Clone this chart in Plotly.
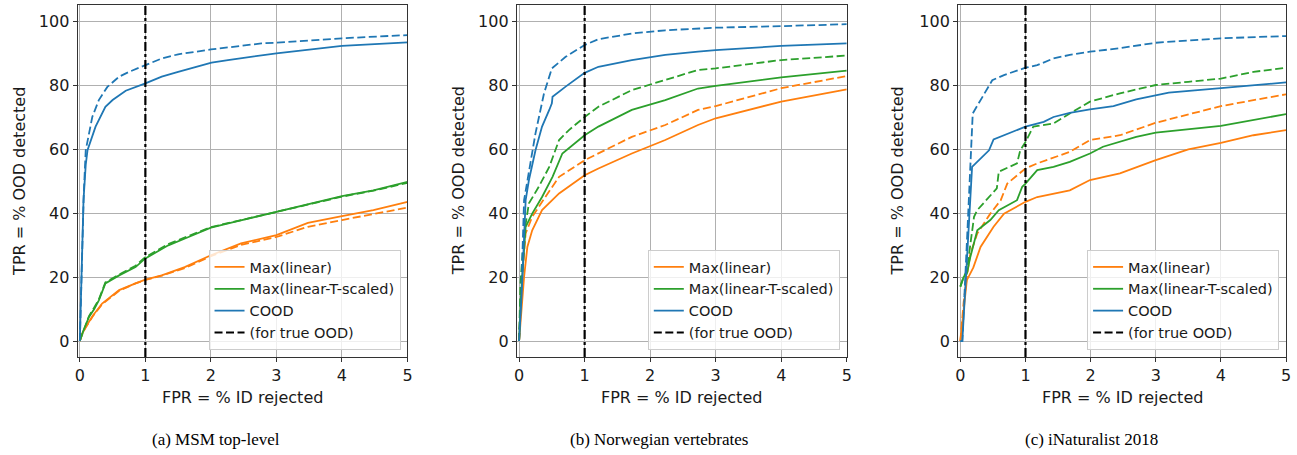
import plotly.graph_objects as go

# ---------------- data ----------------
CAPTIONS = ["(a) MSM top-level", "(b) Norwegian vertebrates", "(c) iNaturalist 2018"]
SERIES_NAMES = ["Max(linear)", "Max(linear-T-scaled)", "COOD"]
TRUE_OOD_NAME = "(for true OOD)"
X_TICKS = [0, 1, 2, 3, 4, 5]
Y_TICKS = [0, 20, 40, 60, 80, 100]
THRESHOLD_FPR = 1

# Panel (a) MSM top-level
MSM_LIN_X = [0, 0.03, 0.09, 0.2, 0.34, 0.6, 0.85, 1.0, 1.25, 1.6, 2.0, 2.46, 3.0, 3.48, 4.0, 4.48, 5.0]
MSM_LIN_Y = [0, 2, 4.4, 8, 11.7, 15.9, 18, 19.2, 20.5, 23.1, 26.8, 30.5, 33.1, 36.9, 39, 40.9, 43.5]
MSM_LIN_TRUE_X = [0, 0.03, 0.09, 0.2, 0.34, 0.6, 0.85, 1.0, 1.25, 1.6, 2.0, 2.46, 3.0, 3.48, 4.0, 4.48, 5.0]
MSM_LIN_TRUE_Y = [0, 2, 4.2, 7.8, 11.5, 15.7, 18, 19.1, 20.4, 22.8, 26.5, 30, 32.5, 35.7, 37.8, 39.6, 41.7]
MSM_TS_X = [0, 0.05, 0.14, 0.22, 0.29, 0.39, 0.6, 0.85, 1.0, 1.35, 1.66, 2.0, 2.36, 3.0, 3.48, 4.0, 4.48, 5.0]
MSM_TS_Y = [0, 3, 7.5, 10, 12.7, 18, 20.5, 23.1, 25.8, 29.9, 32.5, 35.4, 37.2, 40.4, 42.8, 45.3, 47.1, 49.7]
MSM_TS_TRUE_X = [0, 0.05, 0.14, 0.22, 0.29, 0.39, 0.6, 0.85, 1.0, 1.35, 1.66, 2.0, 2.36, 3.0, 3.48, 4.0, 4.48, 5.0]
MSM_TS_TRUE_Y = [0, 3, 7.8, 10.5, 13, 18.3, 20.8, 23.5, 26.2, 30.3, 32.9, 35.6, 37.3, 40.4, 42.6, 45.1, 47.0, 49.4]
MSM_COOD_X = [0, 0.03, 0.056, 0.09, 0.117, 0.24, 0.39, 0.5, 0.7, 1.0, 1.25, 1.5, 1.76, 2.01, 2.26, 2.77, 3.0, 4.0, 5.0]
MSM_COOD_Y = [0, 25, 44, 55, 59.6, 67, 73.2, 75.3, 78.2, 80.5, 82.6, 84.1, 85.7, 87, 87.8, 89.4, 89.9, 92.2, 93.3]
MSM_COOD_TRUE_X = [0, 0.03, 0.06, 0.09, 0.19, 0.29, 0.42, 0.6, 0.75, 1.0, 1.25, 1.5, 2.0, 2.77, 3.0, 4.0, 5.0]
MSM_COOD_TRUE_Y = [0, 25, 46, 59.6, 70, 75.3, 79.4, 82.6, 84.1, 86.2, 88.3, 89.6, 91.1, 93, 93.2, 94.6, 95.6]

# Panel (b) Norwegian vertebrates
NOR_LIN_X = [0, 0.04, 0.076, 0.126, 0.2, 0.35, 0.61, 1.0, 1.21, 1.72, 2.23, 2.73, 3.0, 4.0, 5.0]
NOR_LIN_Y = [0, 12, 20, 29.4, 34.6, 40.9, 46.1, 51.8, 53.9, 58.6, 62.8, 67.5, 69.6, 74.8, 78.6]
NOR_LIN_TRUE_X = [0, 0.03, 0.1, 0.2, 0.4, 0.61, 1.0, 1.21, 1.72, 2.23, 2.73, 3.0, 4.0, 5.0]
NOR_LIN_TRUE_Y = [0, 15, 33.6, 38.8, 45, 51.3, 56.5, 58.6, 63.8, 67.5, 72.2, 73.4, 79, 82.8]
NOR_TS_X = [0, 0.03, 0.1, 0.2, 0.35, 0.51, 0.66, 1.0, 1.21, 1.72, 2.23, 2.73, 3.0, 4.0, 5.0]
NOR_TS_Y = [0, 15, 35.7, 39.8, 45, 51.3, 58.6, 64.3, 67, 72.2, 75.3, 78.9, 79.7, 82.4, 84.5]
NOR_TS_TRUE_X = [0, 0.02, 0.076, 0.15, 0.3, 0.46, 0.61, 0.76, 1.0, 1.21, 1.72, 2.23, 2.73, 3.0, 4.0, 5.0]
NOR_TS_TRUE_Y = [0, 18, 33.6, 43, 48.2, 54.4, 62.8, 65.9, 70, 73.2, 78.4, 81.5, 84.7, 85.2, 87.8, 89.2]
NOR_COOD_X = [0, 0.04, 0.1, 0.15, 0.25, 0.35, 0.46, 0.5, 0.51, 0.71, 1.0, 1.21, 1.72, 2.23, 2.73, 3.0, 4.0, 5.0]
NOR_COOD_Y = [0, 15, 44, 50.3, 59.6, 67, 72.2, 74.3, 76.3, 79.5, 83.8, 85.7, 87.8, 89.4, 90.4, 90.9, 92.2, 93]
NOR_COOD_TRUE_X = [0, 0.04, 0.076, 0.126, 0.25, 0.38, 0.5, 0.71, 1.0, 1.21, 1.72, 2.23, 2.73, 3.0, 4.0, 5.0]
NOR_COOD_TRUE_Y = [0, 20, 44, 50.3, 64.9, 77.4, 85.2, 88.8, 92.5, 94.3, 96.1, 97.1, 97.7, 97.9, 98.4, 99]

# Panel (c) iNaturalist 2018
INAT_LIN_X = [0, 0.05, 0.1, 0.2, 0.31, 0.51, 0.67, 1.0, 1.18, 1.68, 1.99, 2.45, 3.0, 3.5, 4.0, 4.5, 5.0]
INAT_LIN_Y = [0, 10, 19, 23, 29.4, 35.7, 39.8, 43.5, 45, 47.1, 50.3, 52.4, 56.5, 59.9, 61.9, 64.3, 65.9]
INAT_LIN_TRUE_X = [0, 0.05, 0.1, 0.15, 0.26, 0.46, 0.62, 0.72, 1.0, 1.18, 1.68, 1.99, 2.45, 3.0, 4.0, 4.5, 5.0]
INAT_LIN_TRUE_Y = [0, 12, 20, 27, 33.6, 39.8, 44, 49.2, 53.9, 55.5, 59.1, 62.8, 64.3, 68.2, 73.4, 75.3, 77.1]
INAT_TS_X = [0, 0.05, 0.1, 0.15, 0.26, 0.46, 0.59, 0.87, 0.95, 1.0, 1.18, 1.43, 1.68, 1.99, 2.19, 2.7, 3.0, 4.0, 5.0]
INAT_TS_Y = [17, 20, 21, 26, 34.6, 37.8, 40.9, 44, 48.2, 49.2, 53.4, 54.4, 56, 58.6, 60.7, 63.8, 65.1, 67.2, 70.9]
INAT_TS_TRUE_X = [0, 0.05, 0.1, 0.15, 0.21, 0.26, 0.56, 0.59, 0.87, 0.92, 1.0, 1.12, 1.43, 1.68, 1.99, 2.45, 3.0, 3.5, 4.0, 4.5, 5.0]
INAT_TS_TRUE_Y = [17, 20, 22, 30, 38.8, 40.9, 47.7, 52.9, 55.5, 59.6, 62.2, 67, 68, 71.1, 74.8, 77.4, 80, 81, 82, 84.1, 85.4]
INAT_COOD_X = [0, 0.03, 0.1, 0.18, 0.44, 0.51, 1.0, 1.28, 1.43, 1.68, 1.99, 2.35, 2.7, 3.0, 3.2, 4.0, 5.0]
INAT_COOD_Y = [0, 0, 25, 54.4, 59.6, 63, 67, 68.5, 70, 71.3, 72.4, 73.4, 75.5, 76.9, 77.6, 79, 80.8]
INAT_COOD_TRUE_X = [0, 0.03, 0.107, 0.18, 0.19, 0.34, 0.49, 0.67, 1.0, 1.18, 1.43, 1.68, 1.99, 2.45, 3.0, 4.0, 5.0]
INAT_COOD_TRUE_Y = [0, 0, 33.7, 68, 71.1, 76.3, 81.5, 83.1, 85.4, 86.2, 88.3, 89.4, 90.4, 91.5, 93.2, 94.6, 95.3]

# ---------------- styling ----------------
W, H = 1297, 455
COLORS = ["#ff7f0e", "#2ca02c", "#1f77b4"]
DASH = "8px,3.5px"
LW = 1.8
FONT = "DejaVu Sans"
TXT = "#1a1a1a"

# plot areas in pixels (left, right); top / bottom shared
AREAS = [(75, 407), (517, 849), (961, 1291)]
TOP, BOTTOM = 5, 357
YTITLE_X = [17, 459, 901]
CAPTION_X = [214, 660, 1095]
LEGEND_RIGHT = [400, 842, 1284]
LEGEND_BOTTOM = 350

PANELS = [
    [(MSM_LIN_X, MSM_LIN_Y, MSM_LIN_TRUE_X, MSM_LIN_TRUE_Y),
     (MSM_TS_X, MSM_TS_Y, MSM_TS_TRUE_X, MSM_TS_TRUE_Y),
     (MSM_COOD_X, MSM_COOD_Y, MSM_COOD_TRUE_X, MSM_COOD_TRUE_Y)],
    [(NOR_LIN_X, NOR_LIN_Y, NOR_LIN_TRUE_X, NOR_LIN_TRUE_Y),
     (NOR_TS_X, NOR_TS_Y, NOR_TS_TRUE_X, NOR_TS_TRUE_Y),
     (NOR_COOD_X, NOR_COOD_Y, NOR_COOD_TRUE_X, NOR_COOD_TRUE_Y)],
    [(INAT_LIN_X, INAT_LIN_Y, INAT_LIN_TRUE_X, INAT_LIN_TRUE_Y),
     (INAT_TS_X, INAT_TS_Y, INAT_TS_TRUE_X, INAT_TS_TRUE_Y),
     (INAT_COOD_X, INAT_COOD_Y, INAT_COOD_TRUE_X, INAT_COOD_TRUE_Y)],
]

fig = go.Figure()

for p, panel in enumerate(PANELS):
    sfx = "" if p == 0 else str(p + 1)
    xa, ya = "x" + sfx, "y" + sfx
    leg = "legend" + sfx
    # dashed (true OOD) curves
    for s, (xs, ys, xt, yt) in enumerate(panel):
        fig.add_trace(go.Scatter(x=xt, y=yt, mode="lines", xaxis=xa, yaxis=ya,
                                 line=dict(color=COLORS[s], width=LW, dash=DASH),
                                 showlegend=False, hoverinfo="skip"))
    # solid curves
    for s, (xs, ys, xt, yt) in enumerate(panel):
        fig.add_trace(go.Scatter(x=xs, y=ys, mode="lines", xaxis=xa, yaxis=ya,
                                 name=SERIES_NAMES[s], legend=leg,
                                 line=dict(color=COLORS[s], width=LW)))
    # legend-only entry for the dashed style
    fig.add_trace(go.Scatter(x=[None], y=[None], mode="lines", xaxis=xa, yaxis=ya,
                             name=TRUE_OOD_NAME, legend=leg,
                             line=dict(color="black", width=LW, dash=DASH)))
    # threshold line at FPR = 1 %
    fig.add_shape(type="line", xref=xa, yref=ya + " domain", x0=THRESHOLD_FPR, x1=THRESHOLD_FPR,
                  y0=0, y1=1, line=dict(color="black", width=2.2, dash="dashdot"), layer="above")

    l, r = AREAS[p]
    axis_common = dict(showline=True, linecolor="#333333", linewidth=1, mirror=True,
                       ticks="outside", ticklen=4, tickwidth=1, tickcolor="#333333",
                       showgrid=True, gridcolor="#b0b0b0", gridwidth=1, zeroline=False,
                       tickfont=dict(family=FONT, size=16, color=TXT))
    fig.layout["xaxis" + sfx] = dict(domain=[l / W, r / W], range=[-0.035, 5], anchor=ya,
                                     tickvals=X_TICKS, **axis_common)
    fig.layout["yaxis" + sfx] = dict(domain=[1 - BOTTOM / H, 1 - TOP / H], range=[-5, 105], anchor=xa,
                                     tickvals=Y_TICKS, **axis_common)
    fig.layout[leg] = dict(x=LEGEND_RIGHT[p] / W, y=1 - LEGEND_BOTTOM / H, xanchor="right", yanchor="bottom",
                           bgcolor="rgba(255,255,255,0.8)", bordercolor="#cccccc", borderwidth=1,
                           font=dict(family=FONT, size=14.5, color=TXT), tracegroupgap=0,
                           itemwidth=30)

    fig.add_annotation(text="FPR = % ID rejected", xref="paper", yref="paper",
                       x=(l + r) / 2 / W, y=1 - 397 / H, xanchor="center", yanchor="middle",
                       showarrow=False, font=dict(family=FONT, size=16, color=TXT))
    fig.add_annotation(text="TPR = % OOD detected", xref="paper", yref="paper",
                       x=YTITLE_X[p] / W, y=1 - (TOP + BOTTOM) / 2 / H, xanchor="center", yanchor="middle",
                       showarrow=False, textangle=-90, font=dict(family=FONT, size=16, color=TXT))
    fig.add_annotation(text=CAPTIONS[p], xref="paper", yref="paper",
                       x=CAPTION_X[p] / W, y=1 - 439 / H, xanchor="center", yanchor="middle",
                       showarrow=False, font=dict(family="Liberation Serif", size=17, color="black"))

fig.update_layout(width=W, height=H, margin=dict(l=0, r=0, t=0, b=0),
                  paper_bgcolor="white", plot_bgcolor="white", showlegend=True)

fig.write_html("out.html")
